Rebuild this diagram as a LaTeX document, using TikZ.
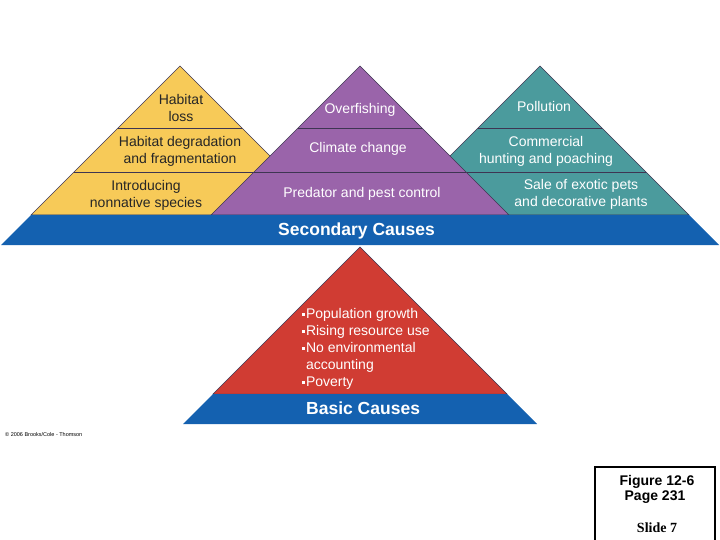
\documentclass[tikz,border=0pt]{standalone}
\usepackage{fontspec}
\setmainfont{Liberation Sans}
\newfontfamily\slidefont{Liberation Serif}
\definecolor{habitatyellow}{HTML}{F7CA58}
\definecolor{harvestpurple}{HTML}{9A64AA}
\definecolor{tradeteal}{HTML}{4B9B9D}
\definecolor{causeblue}{HTML}{1461B0}
\definecolor{basicred}{HTML}{D03C33}
\definecolor{layerline}{HTML}{3E3552}
\tikzset{
    layer/.style={draw=layerline, line width=0.5pt},
    divider/.style={draw=layerline, line width=0.7pt},
    band/.style={fill=causeblue},
    cause/.style={font=\fontsize{14}{17}\selectfont, align=center, inner sep=0pt},
    light cause/.style={cause, text=white},
    dark cause/.style={cause, text=black!85},
    band label/.style={font=\fontsize{17.5}{20}\selectfont\bfseries, text=white,
                       anchor=west, inner sep=0pt},
    figref/.style={font=\fontsize{14}{16}\selectfont\bfseries, inner sep=0pt},
}
\newcommand{\causepyramid}[2]{
    \fill[#2, layer] (#1,66) -- ({#1-149},215) -- ({#1+149},215) -- cycle;
    \draw[divider] ({#1-62},128) -- ({#1+62},128);
    \draw[divider] ({#1-106},172) -- ({#1+106},172);
}
\newcommand{\sqbullet}{\raisebox{2.6pt}{\rule{3.2pt}{3.2pt}}\kern0.6pt}

\begin{document}
\begin{tikzpicture}[x=1pt, y=-1pt]
    \useasboundingbox (0,0) rectangle (720,540);

    % secondary causes
    \causepyramid{180}{habitatyellow}
    \causepyramid{540}{tradeteal}
    \causepyramid{360}{harvestpurple}
    \fill[band] (31,215) -- (689,215) -- (719,245) -- (1,245) -- cycle;
    \node[band label] (secondary) at (278,231) {Secondary Causes};

    \node[dark cause] (loss) at (181,108) {Habitat\\loss};
    \node[dark cause] (degradation) at (180,151) {Habitat degradation\\and fragmentation};
    \node[dark cause] (nonnative) at (146,195) {Introducing\\nonnative species};
    \node[light cause] (overfishing) at (360,110) {Overfishing};
    \node[light cause] (climate) at (358,149) {Climate change};
    \node[light cause] (predator) at (362,194) {Predator and pest control};
    \node[light cause] (pollution) at (544,106) {Pollution};
    \node[light cause] (hunting) at (546,151) {Commercial\\hunting and poaching};
    \node[light cause] (exotic) at (581,194) {Sale of exotic pets\\and decorative plants};

    % basic causes
    \fill[basicred, layer] (360,247) -- (213,394) -- (507,394) -- cycle;
    \fill[band] (213,394) -- (507,394) -- (537,424) -- (183,424) -- cycle;
    \node[band label] (basic) at (306,408) {Basic Causes};
    \node[light cause, align=left, anchor=west] (drivers) at (302,349)
        {\sqbullet Population growth\\\sqbullet Rising resource use\\%
         \sqbullet No environmental\\\ accounting\\\sqbullet Poverty};

    \node[font=\fontsize{5.5}{6}\selectfont, anchor=west, inner sep=0pt] (credit)
        at (5,435) {\textcopyright{} 2006 Brooks/Cole - Thomson};

    % slide reference
    \draw[line width=2pt] (595,467) rectangle (715,545);
    \node[figref] (figure) at (657,482) {Figure 12-6};
    \node[figref] (page) at (655,497) {Page 231};
    \node[figref, font=\fontsize{14}{16}\selectfont\slidefont\bfseries] (slide)
        at (657,528) {Slide 7};
\end{tikzpicture}
\end{document}
